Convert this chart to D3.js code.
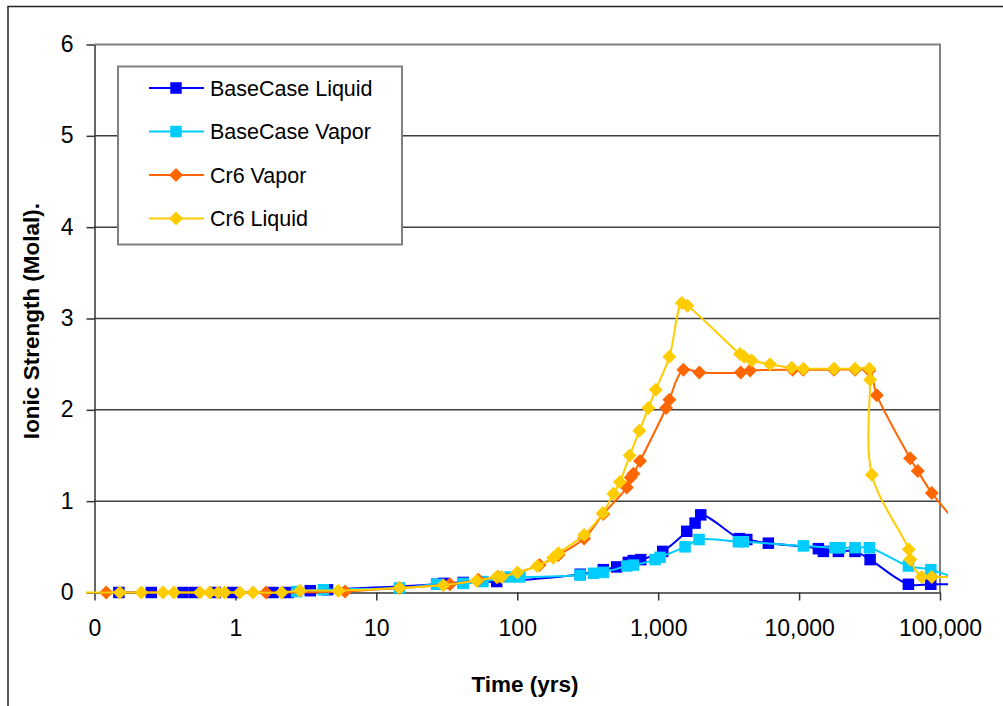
<!DOCTYPE html>
<html>
<head>
<meta charset="utf-8">
<script src="https://cdn.jsdelivr.net/npm/d3@7"></script>
<style>
  body { margin: 0; background: #fff; }
  text { font-family: "Liberation Sans", Arial, sans-serif; fill: #000; }
</style>
</head>
<body>
<svg id="chart" width="1003" height="706"></svg>
<script>
// [time (yrs), ionic strength (molal)]
const baseCaseLiquid = [
  [0.149, 0], [0.253, 0], [0.425, 0], [0.514, 0], [0.72, 0], [0.96, 0], [1.85, 0], [2.36, 0],
  [3.4, 0.02], [4.5, 0.03], [26.8, 0.09], [30, 0.1], [41.4, 0.11], [71.5, 0.12], [280, 0.2],
  [408, 0.25], [508, 0.28], [614, 0.33], [667, 0.35], [752, 0.36], [1078, 0.45], [1596, 0.67],
  [1828, 0.76], [2006, 0.85], [3767, 0.59], [4255, 0.58], [6055, 0.54], [13710, 0.48],
  [14880, 0.45], [19010, 0.45], [24950, 0.45], [31920, 0.36], [59670, 0.09], [86030, 0.09],
  [150000, 0.09]
];
const baseCaseVapor = [
  [2.72, 0.01], [4.21, 0.03], [14.6, 0.05], [26.8, 0.09], [41.4, 0.1], [57, 0.12], [88.9, 0.17],
  [104.7, 0.17], [279, 0.19], [347, 0.21], [408, 0.22], [599, 0.29], [667, 0.3], [950, 0.36],
  [1031, 0.385], [1552, 0.5], [1951, 0.58], [3708, 0.556], [4025, 0.556], [10730, 0.51],
  [18010, 0.49], [19540, 0.49], [24950, 0.49], [31550, 0.49], [59670, 0.29], [86030, 0.25],
  [150000, 0.12]
];
const cr6Vapor = [
  [0.121, 0], [1.65, 0], [6.0, 0.01], [14.6, 0.05], [33.3, 0.09], [53, 0.14], [73, 0.17],
  [144, 0.3], [196, 0.41], [298, 0.59], [408, 0.86], [599, 1.15], [639, 1.26], [667, 1.3],
  [744, 1.44], [1138, 2.02], [1201, 2.11], [1510, 2.44], [1961, 2.41], [3855, 2.41], [4490, 2.43],
  [9000, 2.44], [10700, 2.44], [17700, 2.44], [24950, 2.44], [31550, 2.43], [35610, 2.16],
  [61370, 1.47], [69590, 1.33], [87450, 1.09], [150000, 0.66]
];
const cr6Liquid = [
  [0.05, 0], [0.151, 0], [0.215, 0], [0.306, 0], [0.366, 0], [0.559, 0], [0.658, 0], [0.754, 0],
  [0.839, 0], [1.073, 0], [1.333, 0], [2.13, 0], [2.87, 0.02], [5.37, 0.02], [14.6, 0.05],
  [29.9, 0.08], [51.6, 0.13], [71.5, 0.17], [77.6, 0.17], [100.2, 0.22], [139, 0.29], [180, 0.38],
  [196, 0.43], [298, 0.63], [405, 0.87], [481, 1.08], [535, 1.21], [628, 1.5], [735, 1.77],
  [852, 2.02], [961, 2.22], [1201, 2.58], [1471, 3.17], [1613, 3.14], [3811, 2.61], [4072, 2.58],
  [4615, 2.54], [6225, 2.5], [8875, 2.46], [10730, 2.45], [17710, 2.45], [24950, 2.45],
  [31550, 2.45], [31920, 2.33], [32810, 1.29], [60000, 0.47], [61500, 0.36], [74300, 0.17],
  [87450, 0.17], [150000, 0.17]
];

const seriesNames = ['BaseCase Liquid', 'BaseCase Vapor', 'Cr6 Vapor', 'Cr6 Liquid'];
const seriesColors = ['#0000ff', '#00ccff', '#ff6600', '#ffcc00'];
const seriesShapes = ['square', 'square', 'diamond', 'diamond'];
const seriesData = [baseCaseLiquid, baseCaseVapor, cr6Vapor, cr6Liquid];

const xTickValues = [0.1, 1, 10, 100, 1000, 10000, 100000];
const xTickLabels = ['0', '1', '10', '100', '1,000', '10,000', '100,000'];
const yTickValues = [0, 1, 2, 3, 4, 5, 6];

const plotLeft = 94.5, plotRight = 940, plotTop = 44.5, plotBottom = 592.5;

const x = d3.scaleLog().domain([0.1, 100000]).range([plotLeft, plotRight]);
const y = d3.scaleLinear().domain([0, 6]).range([plotBottom, plotTop]);

const svg = d3.select('#chart');

// outer chart border (cropped at right and bottom)
svg.append('rect')
  .attr('x', 8).attr('y', 6.5).attr('width', 1100).attr('height', 800)
  .attr('fill', 'none').attr('stroke', '#222').attr('stroke-width', 1.5);

// gridlines
svg.append('g')
  .selectAll('line')
  .data(yTickValues.filter((d) => d > 0 && d < 6))
  .enter()
  .append('line')
  .attr('x1', plotLeft).attr('x2', plotRight)
  .attr('y1', (d) => y(d)).attr('y2', (d) => y(d))
  .attr('stroke', '#404040').attr('stroke-width', 1.5);

// plot area border (top + right)
svg.append('path')
  .attr('d', `M${plotLeft},${plotTop}H${plotRight}V${plotBottom}`)
  .attr('fill', 'none').attr('stroke', '#808080').attr('stroke-width', 2);

const xAxis = svg.append('g')
  .attr('transform', `translate(0, ${plotBottom})`)
  .call(d3.axisBottom(x).tickValues(xTickValues)
    .tickFormat((d, i) => xTickLabels[i]).tickSizeInner(8).tickSizeOuter(0).tickPadding(19));

const yAxis = svg.append('g')
  .attr('transform', `translate(${plotLeft}, 0)`)
  .call(d3.axisLeft(y).tickValues(yTickValues).tickFormat(d3.format('d'))
    .tickSizeInner(8).tickSizeOuter(0).tickPadding(13));

[xAxis, yAxis].forEach((g) => {
  g.select('.domain').attr('stroke', '#333').attr('stroke-width', 1.5);
  g.selectAll('.tick line').attr('stroke', '#333').attr('stroke-width', 1.5);
  g.selectAll('.tick text').style('font-size', '23px').attr('fill', '#000');
});
yAxis.selectAll('.tick text').attr('dy', '0.3em');

svg.append('text')
  .text('Time (yrs)')
  .attr('x', 525).attr('y', 692)
  .attr('text-anchor', 'middle')
  .style('font-size', '22.5px').style('font-weight', 'bold');

svg.append('text')
  .text('Ionic Strength (Molal).')
  .attr('transform', 'translate(38.5, 321) rotate(-90)')
  .attr('text-anchor', 'middle')
  .style('font-size', '22.5px').style('font-weight', 'bold');

svg.append('clipPath').attr('id', 'plotClip')
  .append('rect')
  .attr('x', 86).attr('y', 30).attr('width', 948 - 86).attr('height', 580);

const line = d3.line()
  .x((d) => x(d[0]))
  .y((d) => y(d[1]))
  .curve(d3.curveCatmullRom.alpha(0.5));

const squareSym = d3.symbol().type(d3.symbolSquare).size(132)();
const diamondSym = d3.symbol().type(d3.symbolSquare).size(98)();

const markerPath = (shape) => (shape === 'square' ? squareSym : diamondSym);
const markerRot = (shape) => (shape === 'square' ? '' : ' rotate(45)');

const plot = svg.append('g').attr('clip-path', 'url(#plotClip)');

seriesData.forEach((data, i) => {
  const g = plot.append('g');
  g.append('path')
    .datum(data)
    .attr('d', line)
    .attr('fill', 'none')
    .attr('stroke', seriesColors[i])
    .attr('stroke-width', 2);
  g.selectAll('path.mark')
    .data(data.filter((d) => d[0] >= 0.1 && d[0] <= 100000))
    .enter()
    .append('path')
    .attr('class', 'mark')
    .attr('d', markerPath(seriesShapes[i]))
    .attr('transform', (d) => `translate(${x(d[0])}, ${y(d[1])})${markerRot(seriesShapes[i])}`)
    .attr('fill', seriesColors[i]);
});

// legend
const legend = svg.append('g');
legend.append('rect')
  .attr('x', 118).attr('y', 66.5).attr('width', 284).attr('height', 178)
  .attr('fill', '#fff').attr('stroke', '#808080').attr('stroke-width', 2);

const rows = legend.selectAll('g.row')
  .data(seriesNames)
  .enter()
  .append('g')
  .attr('class', 'row')
  .attr('transform', (d, i) => `translate(0, ${88 + i * 43.5})`);

rows.append('line')
  .attr('x1', 149).attr('x2', 204)
  .attr('stroke', (d, i) => seriesColors[i]).attr('stroke-width', 2);

rows.append('path')
  .attr('d', (d, i) => markerPath(seriesShapes[i]))
  .attr('transform', (d, i) => `translate(176, 0)${markerRot(seriesShapes[i])}`)
  .attr('fill', (d, i) => seriesColors[i]);

rows.append('text')
  .text((d) => d)
  .attr('x', 210).attr('dy', '0.35em')
  .style('font-size', '21.5px');
</script>
</body>
</html>
